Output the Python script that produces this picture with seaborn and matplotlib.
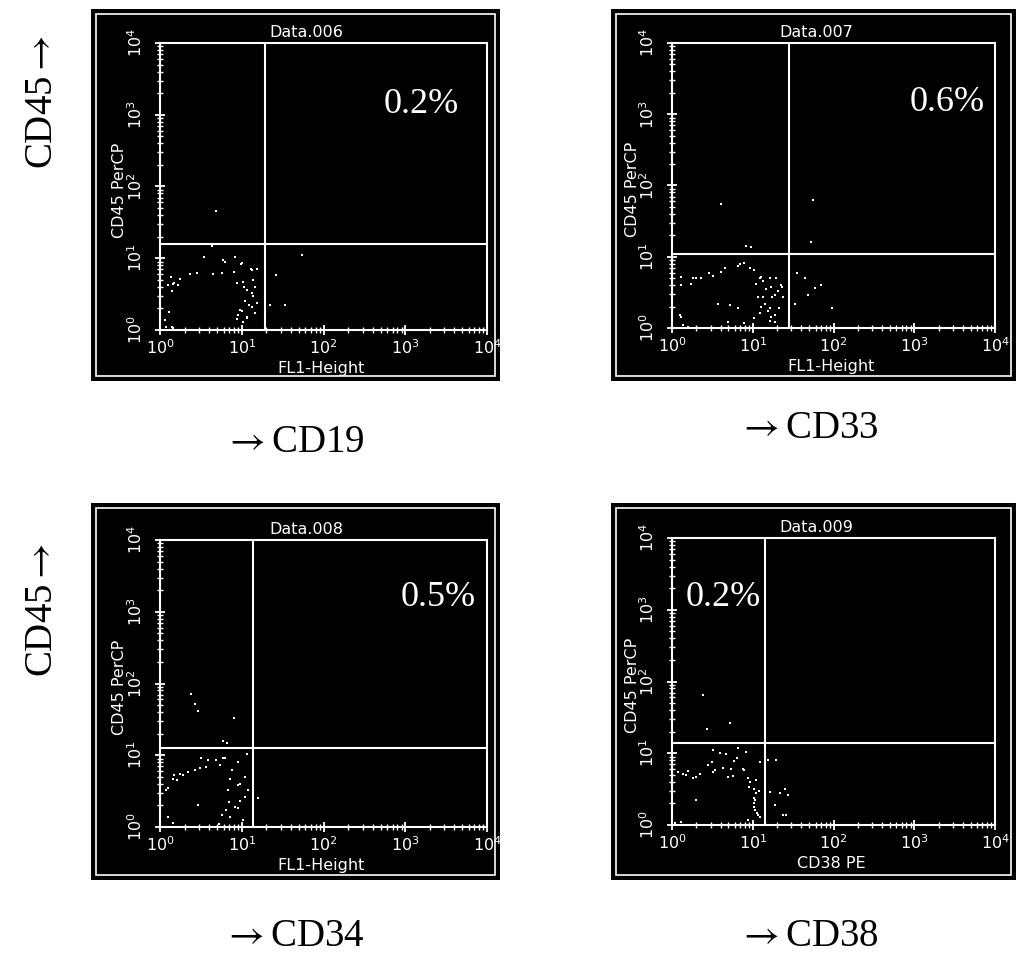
import numpy as np
import matplotlib
matplotlib.use("Agg")
import matplotlib.pyplot as plt
import seaborn as sns
from matplotlib.patches import Rectangle
from matplotlib.ticker import LogLocator, NullFormatter

sns.set_theme(style="ticks")
plt.rcParams['font.family'] = ['DejaVu Sans']
plt.rcParams['mathtext.fontset'] = 'dejavusans'

# ---------------- data (fluorescence intensities) -------------
cd19_x = [5.9, 6.3, 3.5, 8.3, 9.8, 13.2, 15.2, 8.1, 2.8, 2.3, 4.4, 5.7, 1.76, 1.35, 1.26,
          1.45, 1.66, 1.39, 8.7, 10.4, 10.7, 13.8, 14.6, 13.2, 13.8, 15.2, 11.0, 12.3, 10.0, 8.9,
          8.7, 11.5, 10.4, 14.5, 13.2, 1.3, 1.15, 1.45, 1.2, 22, 54, 26, 34, 4.9, 4.3,
          10.0, 13.0, 11.5, 9.5, 11.5, 9.1, 15.2, 1.4, 1.5]
cd19_y = [9.5, 8.9, 10.4, 10.5, 8.3, 6.9, 7.1, 6.4, 6.2, 6.0, 6.0, 6.2, 5.1, 5.5, 4.2,
          4.4, 4.2, 3.5, 4.5, 4.7, 4.0, 5.0, 4.0, 3.3, 3.0, 2.4, 2.5, 2.2, 1.86, 1.62,
          1.42, 1.51, 1.3, 1.72, 2.1, 1.8, 1.38, 1.07, 1.1, 2.2, 11, 5.9, 2.2, 45, 15,
          8.5, 7.0, 3.6, 1.9, 1.45, 1.6, 2.35, 1.1, 4.5]

cd33_x = [6.6, 6.9, 7.9, 9.2, 10.5, 4.5, 4.1, 2.9, 3.2, 2.3, 2.0, 1.82, 1.74, 1.3, 1.29,
          12.2, 12.8, 16.2, 19.6, 22.5, 23, 17, 11.0, 18.7, 17.5, 23.6, 13.4, 11.6, 14.1, 16.2,
          15.4, 12.8, 12.2, 17, 16.2, 18.7, 10.5, 1.24, 1.3, 1.37, 1.58, 5.2, 3.7, 6.6, 7.9,
          5.0, 35, 44, 48, 59, 33, 70, 8.3, 9.5, 53, 4.1, 55, 95,
          20.5, 14.8, 21, 19, 13.5]
cd33_y = [7.3, 7.8, 8.1, 6.9, 6.5, 6.9, 6.2, 5.9, 5.4, 5.1, 5.0, 5.1, 4.1, 4.0, 5.2,
          5.0, 5.2, 5.0, 5.0, 4.0, 3.8, 3.8, 4.2, 2.9, 2.7, 2.7, 2.7, 2.7, 2.2, 1.9,
          1.71, 2.0, 1.6, 1.44, 1.25, 1.52, 1.37, 1.52, 1.45, 1.1, 1.04, 2.1, 2.2, 1.9, 1.16,
          1.2, 5.9, 5.0, 2.9, 3.6, 2.2, 4.0, 14.3, 13.8, 16, 55, 63, 1.9,
          3.3, 3.5, 1.9, 1.2, 4.6]

cd34_x = [2.4, 2.7, 2.9, 8.1, 5.9, 6.6, 3.2, 3.9, 4.9, 5.9, 6.3, 8.9, 11.5, 3.7, 3.1,
          2.7, 2.2, 1.93, 1.76, 1.5, 1.6, 1.45, 1.26, 1.2, 5.4, 7.5, 7.2, 8.9, 9.5, 6.7,
          11, 12, 6.9, 9.5, 11, 8.3, 9.0, 6.4, 5.7, 7.2, 10.4, 5.2, 2.9, 1.26, 1.46, 16]
cd34_y = [72, 52, 41, 33, 16, 15, 9.3, 8.5, 8.7, 9.3, 9.3, 8.1, 10.5, 6.8, 6.6,
          6.2, 5.9, 5.3, 5.4, 5.3, 4.5, 4.6, 3.5, 3.3, 7.3, 6.2, 4.7, 3.8, 4.0, 3.3,
          5.0, 3.3, 2.2, 2.3, 2.6, 1.9, 1.85, 1.72, 1.47, 1.39, 1.25, 1.1, 2.0, 1.39, 1.12, 2.5]

cd38_x = [2.4, 5.2, 2.7, 3.2, 3.9, 4.7, 6.6, 8.3, 6.3, 5.8, 3.1, 2.8, 4.3, 5.4, 7.9,
          7.5, 12.2, 3.2, 3.4, 2.2, 2.0, 1.58, 1.37, 1.5, 1.19, 1.8, 4.9, 5.7, 8.7, 9.2,
          11, 10.5, 11, 10.5, 10.4, 10.8, 11.6, 12.3, 12, 8.9, 2.0, 15.5, 19.5, 16.2, 21.5,
          27.5, 25, 18.7, 23.7, 26, 8.7, 1.3, 1.1, 10.6, 10.5, 11.2]
cd38_y = [65, 26, 22, 11, 10.2, 9.8, 11.7, 10.5, 8.5, 7.9, 7.6, 6.9, 6.2, 6.0, 5.8,
          6.0, 7.6, 5.5, 5.8, 5.2, 4.7, 5.7, 5.2, 4.9, 5.5, 4.5, 4.7, 4.8, 4.5, 4.0,
          4.2, 3.2, 2.8, 2.4, 2.0, 1.6, 1.38, 1.3, 3.0, 3.4, 2.2, 8.1, 8.1, 2.9, 2.8,
          2.6, 3.2, 1.9, 1.38, 1.4, 1.17, 1.1, 1.05, 2.2, 1.8, 1.45]

titles = ["Data.006", "Data.007", "Data.008", "Data.009"]
xlabels = ["FL1-Height", "FL1-Height", "FL1-Height", "CD38 PE"]
ylabel = "CD45 PerCP"
markers = ["CD19", "CD33", "CD34", "CD38"]
percents = ["0.2%", "0.6%", "0.5%", "0.2%"]
gate_x = [19, 27.9, 13.8, 14.3]
gate_y = [15.8, 10.8, 12.6, 14.0]
xs = [cd19_x, cd33_x, cd34_x, cd38_x]
ys = [cd19_y, cd33_y, cd34_y, cd38_y]

# ---------------- layout (pixels) ----------------
W, H = 1017, 963
axes_px = [(160, 43, 487, 330), (672, 43, 995, 328), (160, 540, 487, 827), (672, 538, 995, 825)]
frame_px = [(91, 9, 500, 381), (611, 9, 1016, 381), (91, 503, 500, 880), (611, 503, 1016, 880)]
pct_px = [(421.5, 104.5), (946.7, 102.5), (438, 597.5), (723.5, 597.5)]
marker_px = [(294, 442), (808, 428), (294, 936), (808, 936)]
cd45_px = [(42, 102), (42, 610)]

fig = plt.figure(figsize=(W / 100, H / 100), dpi=100)
fig.patch.set_facecolor("white")

serif = ['Liberation Serif', 'DejaVu Serif']
small = 11.5

for i in range(4):
    x0, y0, x1, y1 = frame_px[i]
    fig.add_artist(Rectangle((x0 / W, 1 - y1 / H), (x1 - x0) / W, (y1 - y0) / H,
                             transform=fig.transFigure, facecolor="black",
                             edgecolor="none", zorder=-3))
    ins = 5
    fig.add_artist(Rectangle(((x0 + ins) / W, 1 - (y1 - ins) / H),
                             (x1 - x0 - 2 * ins) / W, (y1 - y0 - 2 * ins) / H,
                             transform=fig.transFigure, facecolor="none",
                             edgecolor="white", linewidth=1.2, zorder=-2))

    l, t, r, b = axes_px[i]
    ax = fig.add_axes([l / W, 1 - b / H, (r - l) / W, (b - t) / H])
    ax.set_facecolor("black")
    ax.set_xscale("log")
    ax.set_yscale("log")
    ax.set_xlim(1, 1e4)
    ax.set_ylim(1, 1e4)

    sns.scatterplot(x=xs[i], y=ys[i], ax=ax, color="white", marker="s", s=3,
                    linewidth=0, legend=False, zorder=3)
    ax.axvline(gate_x[i], color="white", lw=1.5, zorder=2)
    ax.axhline(gate_y[i], color="white", lw=1.5, zorder=2)

    for s in ax.spines.values():
        s.set_color("white")
        s.set_linewidth(1.5)

    ax.xaxis.set_major_locator(LogLocator(base=10, numticks=10))
    ax.yaxis.set_major_locator(LogLocator(base=10, numticks=10))
    ax.xaxis.set_minor_locator(LogLocator(base=10, subs=np.arange(2, 10), numticks=20))
    ax.yaxis.set_minor_locator(LogLocator(base=10, subs=np.arange(2, 10), numticks=20))
    ax.xaxis.set_minor_formatter(NullFormatter())
    ax.yaxis.set_minor_formatter(NullFormatter())
    ax.tick_params(which="both", direction="inout", colors="white", labelsize=small)
    ax.tick_params(which="major", length=7, width=1.3)
    ax.tick_params(which="minor", length=4, width=1.0)
    ax.tick_params(axis="x", pad=2.5)
    ax.tick_params(axis="y", pad=7, labelrotation=90)
    plt.setp(ax.get_yticklabels(), va="center")

    ax.set_title(titles[i], color="white", fontsize=small, x=0.447, y=1.02, pad=0)
    ax.set_xlabel(xlabels[i], color="white", fontsize=small)
    ax.xaxis.set_label_coords(0.494, -0.108)
    ax.set_ylabel(ylabel, color="white", fontsize=small)
    ax.yaxis.set_label_coords(-0.10, 0.488)

    px, py = pct_px[i]
    fig.text(px / W, 1 - py / H, percents[i], color="white", fontsize=26,
             family=serif, ha="center", va="center")

    mx, my = marker_px[i]
    fig.text(mx / W, 1 - my / H, r"$\rightarrow$" + markers[i], color="black",
             fontsize=28, family=serif, math_fontfamily="stix",
             ha="center", va="center")

for cx, cy in cd45_px:
    fig.text(cx / W, 1 - cy / H, r"CD45$\rightarrow$", color="black", fontsize=28,
             family=serif, math_fontfamily="stix",
             ha="center", va="center", rotation=90)

fig.savefig("out.png", dpi=100, facecolor="white")
